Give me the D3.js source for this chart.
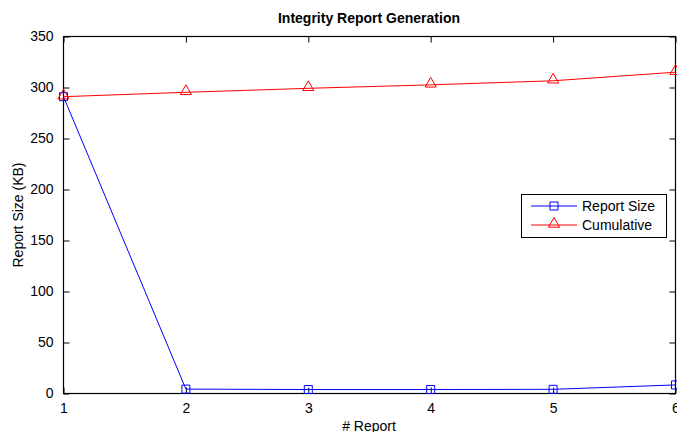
<html>
<head>
<script src="https://cdnjs.cloudflare.com/ajax/libs/d3/7.8.5/d3.min.js"></script>
<style>
body { margin: 0; background: #fff; }
text { font-family: "Liberation Sans", Arial, sans-serif; }
</style>
</head>
<body>
<script>
var reports = [1, 2, 3, 4, 5, 6];
var reportSize = [291, 4.3, 3.9, 3.9, 4.1, 8.4];
var cumulative = [291, 295.3, 299.2, 302.6, 306.6, 315];
var yTicks = [0, 50, 100, 150, 200, 250, 300, 350];

var width = 677, height = 432;
var pLeft = 63.5, pRight = 675.5, pTop = 36.5, pBottom = 393.5;

var svg = d3.select('body').append('svg')
  .attr('width', width).attr('height', height);

var x = d3.scaleLinear().domain([1, 6]).range([pLeft, pRight]);
var y = d3.scaleLinear().domain([0, 350]).range([pBottom, pTop]);

// ticks inward on all four sides, like matlab
var ax = svg.append('g');
ax.append('g').attr('transform', 'translate(0,' + pBottom + ')')
  .call(d3.axisBottom(x).tickValues(reports).tickSizeInner(-6).tickSizeOuter(0).tickPadding(10).tickFormat(d3.format('d')));
ax.append('g').attr('transform', 'translate(0,' + pTop + ')')
  .call(d3.axisTop(x).tickValues(reports).tickSizeInner(-6).tickSizeOuter(0).tickFormat(''));
ax.append('g').attr('transform', 'translate(' + pLeft + ',0)')
  .call(d3.axisLeft(y).tickValues(yTicks).tickSizeInner(-6).tickSizeOuter(0).tickPadding(10));
ax.append('g').attr('transform', 'translate(' + pRight + ',0)')
  .call(d3.axisRight(y).tickValues(yTicks).tickSizeInner(-6).tickSizeOuter(0).tickFormat(''));
ax.selectAll('.domain').remove();
ax.selectAll('g').attr('font-size', 14).attr('font-family', '"Liberation Sans", Arial, sans-serif');
ax.selectAll('text').attr('fill', '#000');
ax.selectAll('line').attr('stroke', '#000');

svg.append('rect')
  .attr('x', pLeft).attr('y', pTop)
  .attr('width', pRight - pLeft).attr('height', pBottom - pTop)
  .attr('fill', 'none').attr('stroke', '#000').attr('stroke-width', 1.2);

var line = d3.line()
  .x(function(d, i) { return x(reports[i]); })
  .y(function(d) { return y(d); });

var sq = d3.symbol().type(d3.symbolSquare).size(64);
var tri = d3.symbol().type(d3.symbolTriangle).size(54);

svg.append('path').datum(reportSize)
  .attr('d', line).attr('fill', 'none').attr('stroke', '#0000ff').attr('stroke-width', 1);
svg.selectAll('.sq').data(reportSize).enter().append('path')
  .attr('class', 'sq')
  .attr('d', sq)
  .attr('transform', function(d, i) { return 'translate(' + x(reports[i]) + ',' + y(d) + ')'; })
  .attr('fill', 'none').attr('stroke', '#0000ff');

svg.append('path').datum(cumulative)
  .attr('d', line).attr('fill', 'none').attr('stroke', '#ff0000').attr('stroke-width', 1);
svg.selectAll('.tri').data(cumulative).enter().append('path')
  .attr('class', 'tri')
  .attr('d', tri)
  .attr('transform', function(d, i) { return 'translate(' + x(reports[i]) + ',' + (y(d) - 1) + ')'; })
  .attr('fill', 'none').attr('stroke', '#ff0000');

// title and labels
svg.append('text').attr('x', 369).attr('y', 23)
  .attr('text-anchor', 'middle').attr('font-size', 14).attr('font-weight', 'bold')
  .text('Integrity Report Generation');
svg.append('text').attr('x', 369).attr('y', 431)
  .attr('text-anchor', 'middle').attr('font-size', 14)
  .text('# Report');
svg.append('text')
  .attr('transform', 'translate(23,' + ((pTop + pBottom) / 2) + ') rotate(-90)')
  .attr('text-anchor', 'middle').attr('font-size', 14)
  .text('Report Size (KB)');

// legend
var lg = svg.append('g');
lg.append('rect').attr('x', 521.5).attr('y', 194.5).attr('width', 145).attr('height', 43)
  .attr('fill', '#fff').attr('stroke', '#000').attr('stroke-width', 1);
var items = [
  { name: 'Report Size', color: '#0000ff', sym: sq, dy: 0 },
  { name: 'Cumulative', color: '#ff0000', sym: tri, dy: -1 }
];
items.forEach(function(it, i) {
  var yy = 206 + i * 19;
  lg.append('line').attr('x1', 531).attr('x2', 577).attr('y1', yy).attr('y2', yy)
    .attr('stroke', it.color);
  lg.append('path').attr('d', it.sym)
    .attr('transform', 'translate(554,' + (yy + it.dy) + ')')
    .attr('fill', 'none').attr('stroke', it.color);
  lg.append('text').attr('x', 582).attr('y', yy + 5).attr('font-size', 14)
    .text(it.name);
});
</script>
</body>
</html>
